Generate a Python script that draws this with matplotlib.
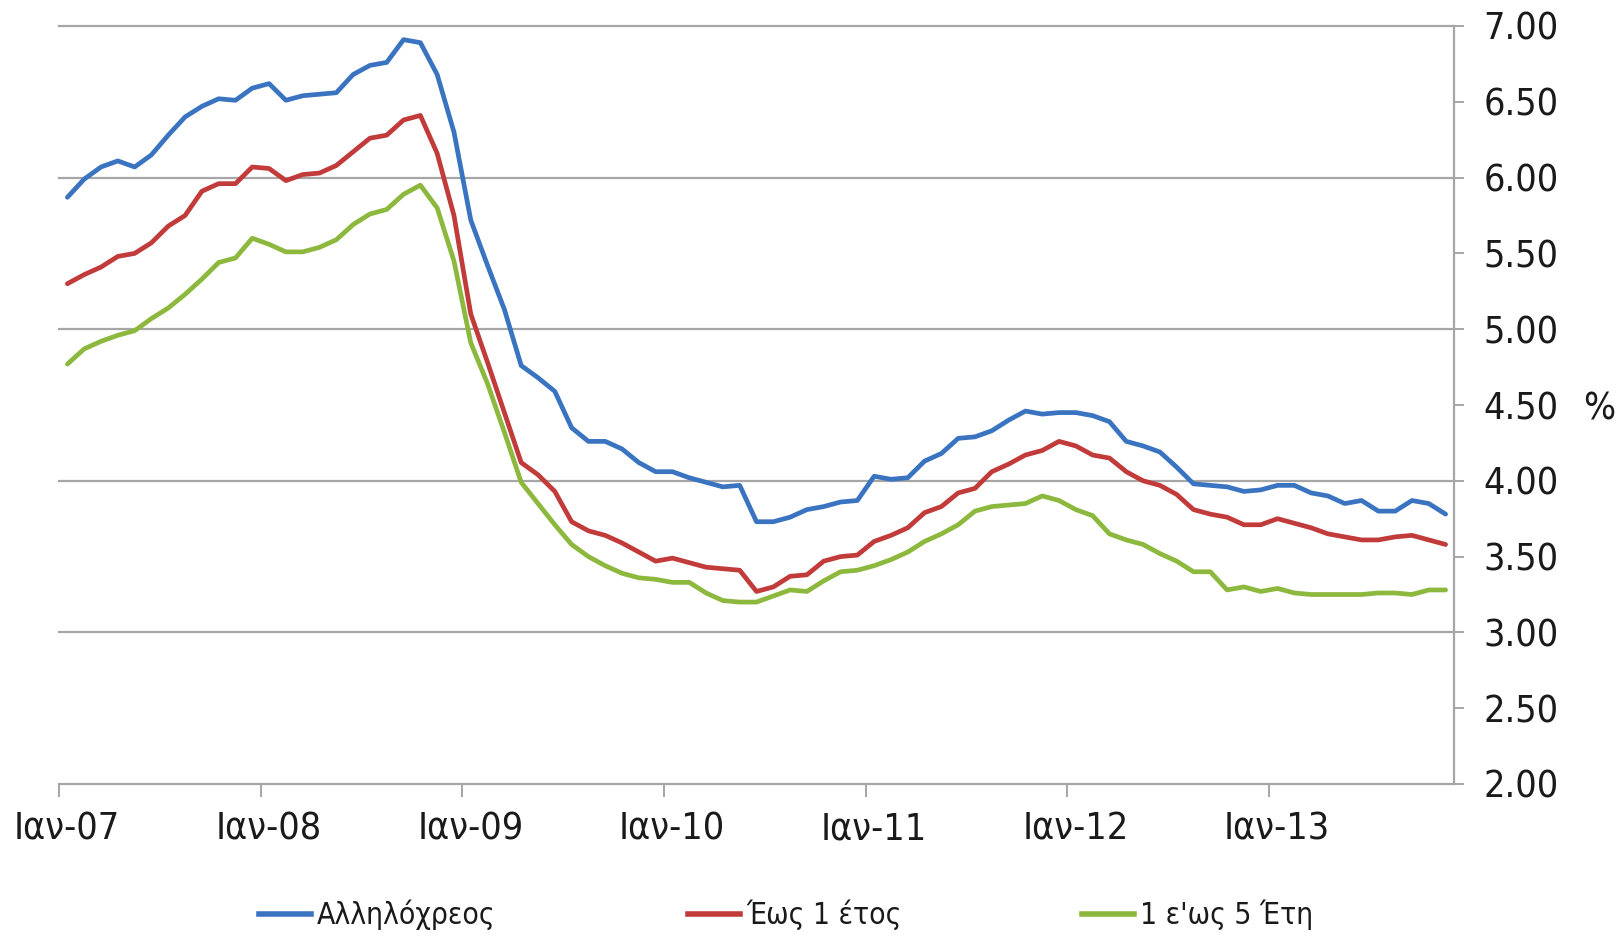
import matplotlib
matplotlib.use("Agg")
import matplotlib.pyplot as plt
import matplotlib.transforms as mtransforms
from matplotlib.lines import Line2D
import numpy as np

# ---------------- data (monthly, Jan-07 .. Nov-13) ----------------
tick_labels = ["Ιαν-07", "Ιαν-08", "Ιαν-09", "Ιαν-10", "Ιαν-11", "Ιαν-12", "Ιαν-13"]
series_names = ["Αλληλόχρεος", "Έως 1 έτος", "1 ε'ως 5 Έτη"]

allilochreos = [
    5.87, 5.99, 6.07, 6.11, 6.07, 6.15, 6.28, 6.40, 6.47, 6.52, 6.51, 6.59,
    6.62, 6.51, 6.54, 6.55, 6.56, 6.68, 6.74, 6.76, 6.91, 6.89, 6.68, 6.30,
    5.72, 5.42, 5.13, 4.76, 4.68, 4.59, 4.35, 4.26, 4.26, 4.21, 4.12, 4.06,
    4.06, 4.02, 3.99, 3.96, 3.97, 3.73, 3.73, 3.76, 3.81, 3.83, 3.86, 3.87,
    4.03, 4.01, 4.02, 4.13, 4.18, 4.28, 4.29, 4.33, 4.40, 4.46, 4.44, 4.45,
    4.45, 4.43, 4.39, 4.26, 4.23, 4.19, 4.09, 3.98, 3.97, 3.96, 3.93, 3.94,
    3.97, 3.97, 3.92, 3.90, 3.85, 3.87, 3.80, 3.80, 3.87, 3.85, 3.78,
]
eos_1_etos = [
    5.30, 5.36, 5.41, 5.48, 5.50, 5.57, 5.68, 5.75, 5.91, 5.96, 5.96, 6.07,
    6.06, 5.98, 6.02, 6.03, 6.08, 6.17, 6.26, 6.28, 6.38, 6.41, 6.16, 5.75,
    5.10, 4.78, 4.45, 4.12, 4.04, 3.93, 3.73, 3.67, 3.64, 3.59, 3.53, 3.47,
    3.49, 3.46, 3.43, 3.42, 3.41, 3.27, 3.30, 3.37, 3.38, 3.47, 3.50, 3.51,
    3.60, 3.64, 3.69, 3.79, 3.83, 3.92, 3.95, 4.06, 4.11, 4.17, 4.20, 4.26,
    4.23, 4.17, 4.15, 4.06, 4.00, 3.97, 3.91, 3.81, 3.78, 3.76, 3.71, 3.71,
    3.75, 3.72, 3.69, 3.65, 3.63, 3.61, 3.61, 3.63, 3.64, 3.61, 3.58,
]
apo_1_eos_5 = [
    4.77, 4.87, 4.92, 4.96, 4.99, 5.07, 5.14, 5.23, 5.33, 5.44, 5.47, 5.60,
    5.56, 5.51, 5.51, 5.54, 5.59, 5.69, 5.76, 5.79, 5.89, 5.95, 5.80, 5.45,
    4.91, 4.64, 4.32, 3.99, 3.85, 3.71, 3.58, 3.50, 3.44, 3.39, 3.36, 3.35,
    3.33, 3.33, 3.26, 3.21, 3.20, 3.20, 3.24, 3.28, 3.27, 3.34, 3.40, 3.41,
    3.44, 3.48, 3.53, 3.60, 3.65, 3.71, 3.80, 3.83, 3.84, 3.85, 3.90, 3.87,
    3.81, 3.77, 3.65, 3.61, 3.58, 3.52, 3.47, 3.40, 3.40, 3.28, 3.30, 3.27,
    3.29, 3.26, 3.25, 3.25, 3.25, 3.25, 3.26, 3.26, 3.25, 3.28, 3.28,
]

# ---------------- styling ----------------
W, H = 1623, 936
colors = ["#3a74c0", "#c23b3b", "#8cb83e"]
grid_col = "#a6a6a6"
text_col = "#1a1a1a"
plt.rcParams["font.family"] = ["DejaVu Sans"]
plt.rcParams["font.stretch"] = "condensed"

fig = plt.figure(figsize=(W / 100, H / 100), dpi=100)
ax = fig.add_axes([59 / W, 1 - 784 / H, (1454 - 59) / W, (784 - 26) / H])

n = len(allilochreos)
x = np.arange(n) + 0.5   # mid-month positions
for vals, c, name in zip([allilochreos, eos_1_etos, apo_1_eos_5], colors, series_names):
    ax.plot(x, vals, color=c, lw=3.4, label=name, solid_joinstyle="round",
            solid_capstyle="round", zorder=3)

ax.set_xlim(0, 83)
ax.set_ylim(2, 7)

for yv in [3, 4, 5, 6, 7]:
    ax.axhline(yv, color=grid_col, lw=1.6, zorder=1, clip_on=False)

for s in ["left", "top"]:
    ax.spines[s].set_visible(False)
for s in ["right", "bottom"]:
    ax.spines[s].set_color(grid_col)
    ax.spines[s].set_linewidth(1.6)

ax.yaxis.tick_right()
yt = np.arange(2.0, 7.01, 0.5)
ax.set_yticks(yt)
ax.set_yticklabels([f"{v:.2f}" for v in yt])
ax.tick_params(axis="y", direction="out", length=7, width=1.4, color=grid_col,
               pad=14, labelsize=27, labelcolor=text_col)

xt = np.arange(len(tick_labels)) * 12
ax.set_xticks(xt)
ax.set_xticklabels(tick_labels)
ax.tick_params(axis="x", direction="out", length=9, width=1.4, color=grid_col,
               pad=11, labelsize=27, labelcolor=text_col)
offset = mtransforms.ScaledTranslation(8 / 100, 0, fig.dpi_scale_trans)
for lab in ax.get_xticklabels():
    lab.set_transform(lab.get_transform() + offset)

fig.text(1599 / W, 1 - 409 / H, "%", ha="center", va="center",
         fontsize=27, color=text_col)

# legend: three entries placed along the bottom
leg_x = [259, 688, 1082]
for xpos, c, name in zip(leg_x, colors, series_names):
    h = Line2D([], [], color=c, lw=4)
    fig.legend([h], [name], loc="center left",
               bbox_to_anchor=(xpos / W, 1 - 915 / H), frameon=False,
               handlelength=1.75, handletextpad=0.2, borderpad=0,
               borderaxespad=0, fontsize=21.5, labelcolor=text_col)

fig.savefig("out.png", dpi=100, facecolor="white")
